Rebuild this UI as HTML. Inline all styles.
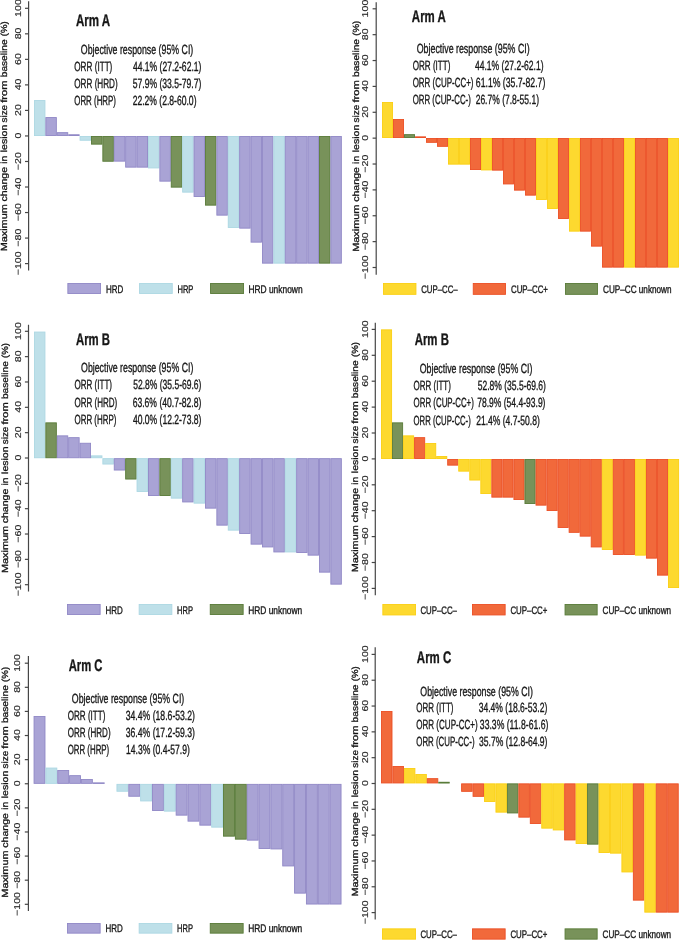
<!DOCTYPE html>
<html><head><meta charset="utf-8"><style>
html,body{margin:0;padding:0;background:#fff;width:685px;height:940px;overflow:hidden}
svg{display:block;will-change:transform}
text{font-family:"Liberation Sans",sans-serif;text-rendering:geometricPrecision}
.t{fill:#161616;stroke:#161616;stroke-width:0.35px;paint-order:stroke}
.tk{fill:#1e1e1e;stroke:#1e1e1e;stroke-width:0.15px}
.tt{fill:#161616;stroke:#161616;stroke-width:0.3px}
</style></head><body>
<svg width="685" height="940" viewBox="0 0 685 940">
<rect width="685" height="940" fill="#fff"/>
<rect x="34.45" y="100.55" width="10.5" height="35" fill="#bee0e9" stroke="#acd7e3" stroke-width="0.9"/>
<rect x="45.85" y="117.55" width="10.5" height="18" fill="#a9a3d5" stroke="#9088c6" stroke-width="0.9"/>
<rect x="57.25" y="132.65" width="10.5" height="2.9" fill="#a9a3d5" stroke="#9088c6" stroke-width="0.9"/>
<rect x="68.65" y="134.75" width="10.5" height="0.8" fill="#a9a3d5" stroke="#9088c6" stroke-width="0.9"/>
<rect x="80.05" y="136.45" width="10.5" height="3.8" fill="#bee0e9" stroke="#acd7e3" stroke-width="0.9"/>
<rect x="91.45" y="136.45" width="10.5" height="7.7" fill="#78925a" stroke="#587b38" stroke-width="0.9"/>
<rect x="102.85" y="136.45" width="10.5" height="24.8" fill="#78925a" stroke="#587b38" stroke-width="0.9"/>
<rect x="114.25" y="136.45" width="10.5" height="24.7" fill="#a9a3d5" stroke="#9088c6" stroke-width="0.9"/>
<rect x="125.65" y="136.45" width="10.5" height="30.7" fill="#a9a3d5" stroke="#9088c6" stroke-width="0.9"/>
<rect x="137.05" y="136.45" width="10.5" height="30.7" fill="#a9a3d5" stroke="#9088c6" stroke-width="0.9"/>
<rect x="148.45" y="136.45" width="10.5" height="31.5" fill="#bee0e9" stroke="#acd7e3" stroke-width="0.9"/>
<rect x="159.85" y="136.45" width="10.5" height="44.7" fill="#a9a3d5" stroke="#9088c6" stroke-width="0.9"/>
<rect x="171.25" y="136.45" width="10.5" height="50.7" fill="#78925a" stroke="#587b38" stroke-width="0.9"/>
<rect x="182.65" y="136.45" width="10.5" height="55.7" fill="#bee0e9" stroke="#acd7e3" stroke-width="0.9"/>
<rect x="194.05" y="136.45" width="10.5" height="60.1" fill="#a9a3d5" stroke="#9088c6" stroke-width="0.9"/>
<rect x="205.45" y="136.45" width="10.5" height="68.7" fill="#78925a" stroke="#587b38" stroke-width="0.9"/>
<rect x="216.85" y="136.45" width="10.5" height="78.7" fill="#a9a3d5" stroke="#9088c6" stroke-width="0.9"/>
<rect x="228.25" y="136.45" width="10.5" height="91.1" fill="#bee0e9" stroke="#acd7e3" stroke-width="0.9"/>
<rect x="239.65" y="136.45" width="10.5" height="91.7" fill="#a9a3d5" stroke="#9088c6" stroke-width="0.9"/>
<rect x="251.05" y="136.45" width="10.5" height="105.7" fill="#a9a3d5" stroke="#9088c6" stroke-width="0.9"/>
<rect x="262.45" y="136.45" width="10.5" height="126.7" fill="#a9a3d5" stroke="#9088c6" stroke-width="0.9"/>
<rect x="273.85" y="136.45" width="10.5" height="126.7" fill="#bee0e9" stroke="#acd7e3" stroke-width="0.9"/>
<rect x="285.25" y="136.45" width="10.5" height="126.7" fill="#a9a3d5" stroke="#9088c6" stroke-width="0.9"/>
<rect x="296.65" y="136.45" width="10.5" height="126.7" fill="#a9a3d5" stroke="#9088c6" stroke-width="0.9"/>
<rect x="308.05" y="136.45" width="10.5" height="126.7" fill="#a9a3d5" stroke="#9088c6" stroke-width="0.9"/>
<rect x="319.45" y="136.45" width="10.5" height="126.7" fill="#78925a" stroke="#587b38" stroke-width="0.9"/>
<rect x="330.85" y="136.45" width="10.5" height="126.7" fill="#a9a3d5" stroke="#9088c6" stroke-width="0.9"/>
<line x1="28.6" y1="1.3" x2="28.6" y2="270.6" stroke="#464646" stroke-width="1.2"/>
<line x1="25" y1="8.3" x2="28.6" y2="8.3" stroke="#464646" stroke-width="1.2"/>
<text transform="translate(20.95 16.19) rotate(-90)" x="-0.74" y="0" font-size="8.50" class="tk" textLength="17.73" lengthAdjust="spacingAndGlyphs">100</text>
<line x1="25" y1="33.83" x2="28.6" y2="33.83" stroke="#464646" stroke-width="1.2"/>
<text transform="translate(20.95 38.95) rotate(-90)" x="-0.42" y="0" font-size="8.50" class="tk" textLength="11.82" lengthAdjust="spacingAndGlyphs">80</text>
<line x1="25" y1="59.36" x2="28.6" y2="59.36" stroke="#464646" stroke-width="1.2"/>
<text transform="translate(20.95 64.43) rotate(-90)" x="-0.53" y="0" font-size="8.50" class="tk" textLength="11.82" lengthAdjust="spacingAndGlyphs">60</text>
<line x1="25" y1="84.89" x2="28.6" y2="84.89" stroke="#464646" stroke-width="1.2"/>
<text transform="translate(20.95 90.12) rotate(-90)" x="-0.21" y="0" font-size="8.50" class="tk" textLength="11.82" lengthAdjust="spacingAndGlyphs">40</text>
<line x1="25" y1="110.42" x2="28.6" y2="110.42" stroke="#464646" stroke-width="1.2"/>
<text transform="translate(20.95 115.49) rotate(-90)" x="-0.53" y="0" font-size="8.50" class="tk" textLength="11.82" lengthAdjust="spacingAndGlyphs">20</text>
<line x1="25" y1="135.95" x2="28.6" y2="135.95" stroke="#464646" stroke-width="1.2"/>
<text transform="translate(20.95 138.10) rotate(-90)" x="-0.43" y="0" font-size="8.50" class="tk" textLength="5.91" lengthAdjust="spacingAndGlyphs">0</text>
<line x1="25" y1="161.48" x2="28.6" y2="161.48" stroke="#464646" stroke-width="1.2"/>
<text transform="translate(20.95 169.63) rotate(-90)" x="-0.53" y="0" font-size="8.50" class="tk" textLength="18.02" lengthAdjust="spacingAndGlyphs">−20</text>
<line x1="25" y1="187.01" x2="28.6" y2="187.01" stroke="#464646" stroke-width="1.2"/>
<text transform="translate(20.95 195.16) rotate(-90)" x="-0.53" y="0" font-size="8.50" class="tk" textLength="18.02" lengthAdjust="spacingAndGlyphs">−40</text>
<line x1="25" y1="212.54" x2="28.6" y2="212.54" stroke="#464646" stroke-width="1.2"/>
<text transform="translate(20.95 220.69) rotate(-90)" x="-0.53" y="0" font-size="8.50" class="tk" textLength="18.02" lengthAdjust="spacingAndGlyphs">−60</text>
<line x1="25" y1="238.07" x2="28.6" y2="238.07" stroke="#464646" stroke-width="1.2"/>
<text transform="translate(20.95 246.22) rotate(-90)" x="-0.53" y="0" font-size="8.50" class="tk" textLength="18.02" lengthAdjust="spacingAndGlyphs">−80</text>
<line x1="25" y1="263.6" x2="28.6" y2="263.6" stroke="#464646" stroke-width="1.2"/>
<text transform="translate(20.95 274.73) rotate(-90)" x="-0.53" y="0" font-size="8.50" class="tk" textLength="23.93" lengthAdjust="spacingAndGlyphs">−100</text>
<text transform="translate(6.70 250.50) rotate(-90)" x="-0.87" y="0" font-size="8.90" class="tt" textLength="47.12" lengthAdjust="spacingAndGlyphs">Maximum</text>
<text transform="translate(6.70 201.14) rotate(-90)" x="-0.42" y="0" font-size="8.90" class="tt" textLength="34.62" lengthAdjust="spacingAndGlyphs">change</text>
<text transform="translate(6.70 163.18) rotate(-90)" x="-0.62" y="0" font-size="8.90" class="tt" textLength="8.01" lengthAdjust="spacingAndGlyphs">in</text>
<text transform="translate(6.70 151.59) rotate(-90)" x="-0.63" y="0" font-size="8.90" class="tt" textLength="27.47" lengthAdjust="spacingAndGlyphs">lesion</text>
<text transform="translate(6.70 122.21) rotate(-90)" x="-0.30" y="0" font-size="8.90" class="tt" textLength="17.66" lengthAdjust="spacingAndGlyphs">size</text>
<text transform="translate(6.70 102.63) rotate(-90)" x="-0.11" y="0" font-size="8.90" class="tt" textLength="22.36" lengthAdjust="spacingAndGlyphs">from</text>
<text transform="translate(6.70 76.65) rotate(-90)" x="-0.61" y="0" font-size="8.90" class="tt" textLength="37.84" lengthAdjust="spacingAndGlyphs">baseline</text>
<text transform="translate(6.70 35.59) rotate(-90)" x="-0.58" y="0" font-size="8.90" class="tt" textLength="15.00" lengthAdjust="spacingAndGlyphs">(%)</text>
<text x="75.95" y="26.20" font-size="16.90" font-weight="bold" class="t" textLength="34.23" lengthAdjust="spacingAndGlyphs">Arm A</text>
<text x="80.85" y="53.60" font-size="13.30" class="t" textLength="112.41" lengthAdjust="spacingAndGlyphs">Objective response (95% CI)</text>
<text x="74.27" y="70.70" font-size="13.30" class="t" textLength="38.08" lengthAdjust="spacingAndGlyphs">ORR (ITT)</text>
<text x="132.93" y="70.70" font-size="13.30" class="t" textLength="68.44" lengthAdjust="spacingAndGlyphs">44.1% (27.2-62.1)</text>
<text x="74.27" y="87.50" font-size="13.30" class="t" textLength="43.44" lengthAdjust="spacingAndGlyphs">ORR (HRD)</text>
<text x="132.76" y="87.50" font-size="13.30" class="t" textLength="68.61" lengthAdjust="spacingAndGlyphs">57.9% (33.5-79.7)</text>
<text x="74.28" y="104.50" font-size="13.30" class="t" textLength="41.67" lengthAdjust="spacingAndGlyphs">ORR (HRP)</text>
<text x="132.67" y="104.50" font-size="13.30" class="t" textLength="63.83" lengthAdjust="spacingAndGlyphs">22.2% (2.8-60.0)</text>
<rect x="67.85" y="283.55" width="32.7" height="10" fill="#a9a3d5" stroke="#9088c6" stroke-width="0.9"/>
<text x="105.96" y="292.60" font-size="10.90" class="t" textLength="17.31" lengthAdjust="spacingAndGlyphs">HRD</text>
<rect x="139.55" y="283.55" width="32.7" height="10" fill="#bee0e9" stroke="#acd7e3" stroke-width="0.9"/>
<text x="177.50" y="292.60" font-size="10.90" class="t" textLength="15.89" lengthAdjust="spacingAndGlyphs">HRP</text>
<rect x="210.55" y="283.55" width="33" height="10" fill="#78925a" stroke="#587b38" stroke-width="0.9"/>
<text x="248.43" y="292.60" font-size="10.90" class="t" textLength="54.15" lengthAdjust="spacingAndGlyphs">HRD unknown</text>
<rect x="382.45" y="102.45" width="10.1" height="35.1" fill="#fdd92f" stroke="#fbcf12" stroke-width="0.9"/>
<rect x="393.45" y="119.45" width="10.1" height="18.1" fill="#f1693b" stroke="#eb4f25" stroke-width="0.9"/>
<rect x="404.45" y="134.65" width="10.1" height="2.9" fill="#78925a" stroke="#587b38" stroke-width="0.9"/>
<rect x="415.45" y="136.85" width="10.1" height="0.7" fill="#f1693b" stroke="#eb4f25" stroke-width="0.9"/>
<rect x="426.45" y="138.45" width="10.1" height="3.9" fill="#f1693b" stroke="#eb4f25" stroke-width="0.9"/>
<rect x="437.45" y="138.45" width="10.1" height="7.9" fill="#f1693b" stroke="#eb4f25" stroke-width="0.9"/>
<rect x="448.45" y="138.45" width="10.1" height="25.7" fill="#fdd92f" stroke="#fbcf12" stroke-width="0.9"/>
<rect x="459.45" y="138.45" width="10.1" height="25.7" fill="#fdd92f" stroke="#fbcf12" stroke-width="0.9"/>
<rect x="470.45" y="138.45" width="10.1" height="31.1" fill="#f1693b" stroke="#eb4f25" stroke-width="0.9"/>
<rect x="481.45" y="138.45" width="10.1" height="31.5" fill="#fdd92f" stroke="#fbcf12" stroke-width="0.9"/>
<rect x="492.45" y="138.45" width="10.1" height="31.7" fill="#f1693b" stroke="#eb4f25" stroke-width="0.9"/>
<rect x="503.45" y="138.45" width="10.1" height="45.5" fill="#f1693b" stroke="#eb4f25" stroke-width="0.9"/>
<rect x="514.45" y="138.45" width="10.1" height="51.7" fill="#f1693b" stroke="#eb4f25" stroke-width="0.9"/>
<rect x="525.45" y="138.45" width="10.1" height="56.7" fill="#f1693b" stroke="#eb4f25" stroke-width="0.9"/>
<rect x="536.45" y="138.45" width="10.1" height="61.1" fill="#fdd92f" stroke="#fbcf12" stroke-width="0.9"/>
<rect x="547.45" y="138.45" width="10.1" height="70.1" fill="#fdd92f" stroke="#fbcf12" stroke-width="0.9"/>
<rect x="558.45" y="138.45" width="10.1" height="80.1" fill="#f1693b" stroke="#eb4f25" stroke-width="0.9"/>
<rect x="569.45" y="138.45" width="10.1" height="92.7" fill="#fdd92f" stroke="#fbcf12" stroke-width="0.9"/>
<rect x="580.45" y="138.45" width="10.1" height="92.7" fill="#f1693b" stroke="#eb4f25" stroke-width="0.9"/>
<rect x="591.45" y="138.45" width="10.1" height="107.7" fill="#f1693b" stroke="#eb4f25" stroke-width="0.9"/>
<rect x="602.45" y="138.45" width="10.1" height="128.7" fill="#f1693b" stroke="#eb4f25" stroke-width="0.9"/>
<rect x="613.45" y="138.45" width="10.1" height="128.7" fill="#f1693b" stroke="#eb4f25" stroke-width="0.9"/>
<rect x="624.45" y="138.45" width="10.1" height="128.7" fill="#fdd92f" stroke="#fbcf12" stroke-width="0.9"/>
<rect x="635.45" y="138.45" width="10.1" height="128.7" fill="#f1693b" stroke="#eb4f25" stroke-width="0.9"/>
<rect x="646.45" y="138.45" width="10.1" height="128.7" fill="#f1693b" stroke="#eb4f25" stroke-width="0.9"/>
<rect x="657.45" y="138.45" width="10.1" height="128.7" fill="#f1693b" stroke="#eb4f25" stroke-width="0.9"/>
<rect x="668.45" y="138.45" width="10.1" height="128.7" fill="#fdd92f" stroke="#fbcf12" stroke-width="0.9"/>
<line x1="376.2" y1="2.2" x2="376.2" y2="274.7" stroke="#464646" stroke-width="1.2"/>
<line x1="372.6" y1="8.8" x2="376.2" y2="8.8" stroke="#464646" stroke-width="1.2"/>
<text transform="translate(368.40 16.69) rotate(-90)" x="-0.74" y="0" font-size="8.50" class="tk" textLength="17.73" lengthAdjust="spacingAndGlyphs">100</text>
<line x1="372.6" y1="34.67" x2="376.2" y2="34.67" stroke="#464646" stroke-width="1.2"/>
<text transform="translate(368.40 39.80) rotate(-90)" x="-0.42" y="0" font-size="8.50" class="tk" textLength="11.82" lengthAdjust="spacingAndGlyphs">80</text>
<line x1="372.6" y1="60.54" x2="376.2" y2="60.54" stroke="#464646" stroke-width="1.2"/>
<text transform="translate(368.40 65.61) rotate(-90)" x="-0.53" y="0" font-size="8.50" class="tk" textLength="11.82" lengthAdjust="spacingAndGlyphs">60</text>
<line x1="372.6" y1="86.41" x2="376.2" y2="86.41" stroke="#464646" stroke-width="1.2"/>
<text transform="translate(368.40 91.64) rotate(-90)" x="-0.21" y="0" font-size="8.50" class="tk" textLength="11.82" lengthAdjust="spacingAndGlyphs">40</text>
<line x1="372.6" y1="112.28" x2="376.2" y2="112.28" stroke="#464646" stroke-width="1.2"/>
<text transform="translate(368.40 117.35) rotate(-90)" x="-0.53" y="0" font-size="8.50" class="tk" textLength="11.82" lengthAdjust="spacingAndGlyphs">20</text>
<line x1="372.6" y1="138.15" x2="376.2" y2="138.15" stroke="#464646" stroke-width="1.2"/>
<text transform="translate(368.40 140.30) rotate(-90)" x="-0.43" y="0" font-size="8.50" class="tk" textLength="5.91" lengthAdjust="spacingAndGlyphs">0</text>
<line x1="372.6" y1="164.02" x2="376.2" y2="164.02" stroke="#464646" stroke-width="1.2"/>
<text transform="translate(368.40 172.17) rotate(-90)" x="-0.53" y="0" font-size="8.50" class="tk" textLength="18.02" lengthAdjust="spacingAndGlyphs">−20</text>
<line x1="372.6" y1="189.89" x2="376.2" y2="189.89" stroke="#464646" stroke-width="1.2"/>
<text transform="translate(368.40 198.04) rotate(-90)" x="-0.53" y="0" font-size="8.50" class="tk" textLength="18.02" lengthAdjust="spacingAndGlyphs">−40</text>
<line x1="372.6" y1="215.76" x2="376.2" y2="215.76" stroke="#464646" stroke-width="1.2"/>
<text transform="translate(368.40 223.91) rotate(-90)" x="-0.53" y="0" font-size="8.50" class="tk" textLength="18.02" lengthAdjust="spacingAndGlyphs">−60</text>
<line x1="372.6" y1="241.63" x2="376.2" y2="241.63" stroke="#464646" stroke-width="1.2"/>
<text transform="translate(368.40 249.78) rotate(-90)" x="-0.53" y="0" font-size="8.50" class="tk" textLength="18.02" lengthAdjust="spacingAndGlyphs">−80</text>
<line x1="372.6" y1="267.5" x2="376.2" y2="267.5" stroke="#464646" stroke-width="1.2"/>
<text transform="translate(368.40 278.63) rotate(-90)" x="-0.53" y="0" font-size="8.50" class="tk" textLength="23.93" lengthAdjust="spacingAndGlyphs">−100</text>
<text transform="translate(358.90 251.00) rotate(-90)" x="-0.87" y="0" font-size="8.90" class="tt" textLength="47.33" lengthAdjust="spacingAndGlyphs">Maximum</text>
<text transform="translate(358.90 201.43) rotate(-90)" x="-0.42" y="0" font-size="8.90" class="tt" textLength="34.77" lengthAdjust="spacingAndGlyphs">change</text>
<text transform="translate(358.90 163.29) rotate(-90)" x="-0.62" y="0" font-size="8.90" class="tt" textLength="8.05" lengthAdjust="spacingAndGlyphs">in</text>
<text transform="translate(358.90 151.65) rotate(-90)" x="-0.63" y="0" font-size="8.90" class="tt" textLength="27.59" lengthAdjust="spacingAndGlyphs">lesion</text>
<text transform="translate(358.90 122.15) rotate(-90)" x="-0.30" y="0" font-size="8.90" class="tt" textLength="17.74" lengthAdjust="spacingAndGlyphs">size</text>
<text transform="translate(358.90 102.48) rotate(-90)" x="-0.11" y="0" font-size="8.90" class="tt" textLength="22.46" lengthAdjust="spacingAndGlyphs">from</text>
<text transform="translate(358.90 76.39) rotate(-90)" x="-0.61" y="0" font-size="8.90" class="tt" textLength="38.00" lengthAdjust="spacingAndGlyphs">baseline</text>
<text transform="translate(358.90 35.15) rotate(-90)" x="-0.58" y="0" font-size="8.90" class="tt" textLength="15.07" lengthAdjust="spacingAndGlyphs">(%)</text>
<text x="411.86" y="21.70" font-size="16.90" font-weight="bold" class="t" textLength="33.93" lengthAdjust="spacingAndGlyphs">Arm A</text>
<text x="416.75" y="53.30" font-size="13.30" class="t" textLength="112.91" lengthAdjust="spacingAndGlyphs">Objective response (95% CI)</text>
<text x="412.68" y="69.90" font-size="13.30" class="t" textLength="37.77" lengthAdjust="spacingAndGlyphs">ORR (ITT)</text>
<text x="474.93" y="69.90" font-size="13.30" class="t" textLength="68.64" lengthAdjust="spacingAndGlyphs">44.1% (27.2-62.1)</text>
<text x="412.68" y="87.00" font-size="13.30" class="t" textLength="60.79" lengthAdjust="spacingAndGlyphs">ORR (CUP-CC+)</text>
<text x="475.87" y="87.00" font-size="13.30" class="t" textLength="69.41" lengthAdjust="spacingAndGlyphs">61.1% (35.7-82.7)</text>
<text x="412.69" y="104.10" font-size="13.30" class="t" textLength="58.17" lengthAdjust="spacingAndGlyphs">ORR (CUP-CC-)</text>
<text x="475.67" y="104.10" font-size="13.30" class="t" textLength="63.32" lengthAdjust="spacingAndGlyphs">26.7% (7.8-55.1)</text>
<rect x="383.45" y="283.45" width="32.5" height="10.9" fill="#fdd92f" stroke="#fbcf12" stroke-width="0.9"/>
<text x="421.21" y="292.90" font-size="10.90" class="t" textLength="36.47" lengthAdjust="spacingAndGlyphs">CUP–CC–</text>
<rect x="473.25" y="283.45" width="32.3" height="10.9" fill="#f1693b" stroke="#eb4f25" stroke-width="0.9"/>
<text x="511.01" y="292.90" font-size="10.90" class="t" textLength="36.95" lengthAdjust="spacingAndGlyphs">CUP–CC+</text>
<rect x="565.45" y="283.45" width="32.1" height="10.9" fill="#78925a" stroke="#587b38" stroke-width="0.9"/>
<text x="602.99" y="292.90" font-size="10.90" class="t" textLength="68.52" lengthAdjust="spacingAndGlyphs">CUP–CC unknown</text>
<rect x="34.45" y="332.05" width="10.5" height="125.7" fill="#bee0e9" stroke="#acd7e3" stroke-width="0.9"/>
<rect x="45.85" y="422.85" width="10.5" height="34.9" fill="#78925a" stroke="#587b38" stroke-width="0.9"/>
<rect x="57.25" y="435.85" width="10.5" height="21.9" fill="#a9a3d5" stroke="#9088c6" stroke-width="0.9"/>
<rect x="68.65" y="437.65" width="10.5" height="20.1" fill="#a9a3d5" stroke="#9088c6" stroke-width="0.9"/>
<rect x="80.05" y="443.25" width="10.5" height="14.5" fill="#a9a3d5" stroke="#9088c6" stroke-width="0.9"/>
<rect x="91.45" y="455.85" width="10.5" height="1.9" fill="#bee0e9" stroke="#acd7e3" stroke-width="0.9"/>
<rect x="102.85" y="458.65" width="10.5" height="5.4" fill="#bee0e9" stroke="#acd7e3" stroke-width="0.9"/>
<rect x="114.25" y="458.65" width="10.5" height="11.4" fill="#a9a3d5" stroke="#9088c6" stroke-width="0.9"/>
<rect x="125.65" y="458.65" width="10.5" height="20.4" fill="#78925a" stroke="#587b38" stroke-width="0.9"/>
<rect x="137.05" y="458.65" width="10.5" height="32.9" fill="#bee0e9" stroke="#acd7e3" stroke-width="0.9"/>
<rect x="148.45" y="458.65" width="10.5" height="36.9" fill="#a9a3d5" stroke="#9088c6" stroke-width="0.9"/>
<rect x="159.85" y="458.65" width="10.5" height="36.9" fill="#78925a" stroke="#587b38" stroke-width="0.9"/>
<rect x="171.25" y="458.65" width="10.5" height="39.5" fill="#bee0e9" stroke="#acd7e3" stroke-width="0.9"/>
<rect x="182.65" y="458.65" width="10.5" height="43.3" fill="#a9a3d5" stroke="#9088c6" stroke-width="0.9"/>
<rect x="194.05" y="458.65" width="10.5" height="44.5" fill="#bee0e9" stroke="#acd7e3" stroke-width="0.9"/>
<rect x="205.45" y="458.65" width="10.5" height="49.5" fill="#a9a3d5" stroke="#9088c6" stroke-width="0.9"/>
<rect x="216.85" y="458.65" width="10.5" height="66.5" fill="#a9a3d5" stroke="#9088c6" stroke-width="0.9"/>
<rect x="228.25" y="458.65" width="10.5" height="71.5" fill="#bee0e9" stroke="#acd7e3" stroke-width="0.9"/>
<rect x="239.65" y="458.65" width="10.5" height="74.9" fill="#a9a3d5" stroke="#9088c6" stroke-width="0.9"/>
<rect x="251.05" y="458.65" width="10.5" height="85.5" fill="#a9a3d5" stroke="#9088c6" stroke-width="0.9"/>
<rect x="262.45" y="458.65" width="10.5" height="88.3" fill="#a9a3d5" stroke="#9088c6" stroke-width="0.9"/>
<rect x="273.85" y="458.65" width="10.5" height="93.3" fill="#a9a3d5" stroke="#9088c6" stroke-width="0.9"/>
<rect x="285.25" y="458.65" width="10.5" height="93.3" fill="#bee0e9" stroke="#acd7e3" stroke-width="0.9"/>
<rect x="296.65" y="458.65" width="10.5" height="93.9" fill="#a9a3d5" stroke="#9088c6" stroke-width="0.9"/>
<rect x="308.05" y="458.65" width="10.5" height="96.5" fill="#a9a3d5" stroke="#9088c6" stroke-width="0.9"/>
<rect x="319.45" y="458.65" width="10.5" height="113.5" fill="#a9a3d5" stroke="#9088c6" stroke-width="0.9"/>
<rect x="330.85" y="458.65" width="10.5" height="125.5" fill="#a9a3d5" stroke="#9088c6" stroke-width="0.9"/>
<line x1="28.5" y1="324.8" x2="28.5" y2="591.5" stroke="#464646" stroke-width="1.2"/>
<line x1="24.9" y1="331.3" x2="28.5" y2="331.3" stroke="#464646" stroke-width="1.2"/>
<text transform="translate(20.50 339.19) rotate(-90)" x="-0.74" y="0" font-size="8.50" class="tk" textLength="17.73" lengthAdjust="spacingAndGlyphs">100</text>
<line x1="24.9" y1="356.64" x2="28.5" y2="356.64" stroke="#464646" stroke-width="1.2"/>
<text transform="translate(20.50 361.76) rotate(-90)" x="-0.42" y="0" font-size="8.50" class="tk" textLength="11.82" lengthAdjust="spacingAndGlyphs">80</text>
<line x1="24.9" y1="381.98" x2="28.5" y2="381.98" stroke="#464646" stroke-width="1.2"/>
<text transform="translate(20.50 387.05) rotate(-90)" x="-0.53" y="0" font-size="8.50" class="tk" textLength="11.82" lengthAdjust="spacingAndGlyphs">60</text>
<line x1="24.9" y1="407.32" x2="28.5" y2="407.32" stroke="#464646" stroke-width="1.2"/>
<text transform="translate(20.50 412.55) rotate(-90)" x="-0.21" y="0" font-size="8.50" class="tk" textLength="11.82" lengthAdjust="spacingAndGlyphs">40</text>
<line x1="24.9" y1="432.66" x2="28.5" y2="432.66" stroke="#464646" stroke-width="1.2"/>
<text transform="translate(20.50 437.73) rotate(-90)" x="-0.53" y="0" font-size="8.50" class="tk" textLength="11.82" lengthAdjust="spacingAndGlyphs">20</text>
<line x1="24.9" y1="458" x2="28.5" y2="458" stroke="#464646" stroke-width="1.2"/>
<text transform="translate(20.50 460.15) rotate(-90)" x="-0.43" y="0" font-size="8.50" class="tk" textLength="5.91" lengthAdjust="spacingAndGlyphs">0</text>
<line x1="24.9" y1="483.34" x2="28.5" y2="483.34" stroke="#464646" stroke-width="1.2"/>
<text transform="translate(20.50 491.49) rotate(-90)" x="-0.53" y="0" font-size="8.50" class="tk" textLength="18.02" lengthAdjust="spacingAndGlyphs">−20</text>
<line x1="24.9" y1="508.68" x2="28.5" y2="508.68" stroke="#464646" stroke-width="1.2"/>
<text transform="translate(20.50 516.83) rotate(-90)" x="-0.53" y="0" font-size="8.50" class="tk" textLength="18.02" lengthAdjust="spacingAndGlyphs">−40</text>
<line x1="24.9" y1="534.02" x2="28.5" y2="534.02" stroke="#464646" stroke-width="1.2"/>
<text transform="translate(20.50 542.17) rotate(-90)" x="-0.53" y="0" font-size="8.50" class="tk" textLength="18.02" lengthAdjust="spacingAndGlyphs">−60</text>
<line x1="24.9" y1="559.36" x2="28.5" y2="559.36" stroke="#464646" stroke-width="1.2"/>
<text transform="translate(20.50 567.51) rotate(-90)" x="-0.53" y="0" font-size="8.50" class="tk" textLength="18.02" lengthAdjust="spacingAndGlyphs">−80</text>
<line x1="24.9" y1="584.7" x2="28.5" y2="584.7" stroke="#464646" stroke-width="1.2"/>
<text transform="translate(20.50 595.83) rotate(-90)" x="-0.53" y="0" font-size="8.50" class="tk" textLength="23.93" lengthAdjust="spacingAndGlyphs">−100</text>
<text transform="translate(7.50 572.20) rotate(-90)" x="-0.87" y="0" font-size="8.90" class="tt" textLength="47.10" lengthAdjust="spacingAndGlyphs">Maximum</text>
<text transform="translate(7.50 522.86) rotate(-90)" x="-0.42" y="0" font-size="8.90" class="tt" textLength="34.61" lengthAdjust="spacingAndGlyphs">change</text>
<text transform="translate(7.50 484.91) rotate(-90)" x="-0.62" y="0" font-size="8.90" class="tt" textLength="8.01" lengthAdjust="spacingAndGlyphs">in</text>
<text transform="translate(7.50 473.33) rotate(-90)" x="-0.63" y="0" font-size="8.90" class="tt" textLength="27.46" lengthAdjust="spacingAndGlyphs">lesion</text>
<text transform="translate(7.50 443.97) rotate(-90)" x="-0.30" y="0" font-size="8.90" class="tt" textLength="17.66" lengthAdjust="spacingAndGlyphs">size</text>
<text transform="translate(7.50 424.39) rotate(-90)" x="-0.11" y="0" font-size="8.90" class="tt" textLength="22.35" lengthAdjust="spacingAndGlyphs">from</text>
<text transform="translate(7.50 398.43) rotate(-90)" x="-0.61" y="0" font-size="8.90" class="tt" textLength="37.82" lengthAdjust="spacingAndGlyphs">baseline</text>
<text transform="translate(7.50 357.38) rotate(-90)" x="-0.58" y="0" font-size="8.90" class="tt" textLength="14.99" lengthAdjust="spacingAndGlyphs">(%)</text>
<text x="75.96" y="345.00" font-size="16.90" font-weight="bold" class="t" textLength="34.10" lengthAdjust="spacingAndGlyphs">Arm B</text>
<text x="81.05" y="372.40" font-size="13.30" class="t" textLength="112.31" lengthAdjust="spacingAndGlyphs">Objective response (95% CI)</text>
<text x="74.48" y="389.40" font-size="13.30" class="t" textLength="37.57" lengthAdjust="spacingAndGlyphs">ORR (ITT)</text>
<text x="133.26" y="389.40" font-size="13.30" class="t" textLength="68.11" lengthAdjust="spacingAndGlyphs">52.8% (35.5-69.6)</text>
<text x="74.48" y="406.50" font-size="13.30" class="t" textLength="42.72" lengthAdjust="spacingAndGlyphs">ORR (HRD)</text>
<text x="132.67" y="406.50" font-size="13.30" class="t" textLength="68.70" lengthAdjust="spacingAndGlyphs">63.6% (40.7-82.8)</text>
<text x="74.48" y="423.70" font-size="13.30" class="t" textLength="41.97" lengthAdjust="spacingAndGlyphs">ORR (HRP)</text>
<text x="132.93" y="423.70" font-size="13.30" class="t" textLength="68.44" lengthAdjust="spacingAndGlyphs">40.0% (12.2-73.8)</text>
<rect x="67.45" y="604.45" width="32.7" height="10.1" fill="#a9a3d5" stroke="#9088c6" stroke-width="0.9"/>
<text x="105.56" y="613.50" font-size="10.90" class="t" textLength="17.31" lengthAdjust="spacingAndGlyphs">HRD</text>
<rect x="139.15" y="604.45" width="32.7" height="10.1" fill="#bee0e9" stroke="#acd7e3" stroke-width="0.9"/>
<text x="177.10" y="613.50" font-size="10.90" class="t" textLength="15.89" lengthAdjust="spacingAndGlyphs">HRP</text>
<rect x="210.25" y="604.45" width="32.9" height="10.1" fill="#78925a" stroke="#587b38" stroke-width="0.9"/>
<text x="248.13" y="613.50" font-size="10.90" class="t" textLength="54.15" lengthAdjust="spacingAndGlyphs">HRD unknown</text>
<rect x="381.45" y="329.85" width="10.14" height="128.7" fill="#fdd92f" stroke="#fbcf12" stroke-width="0.9"/>
<rect x="392.49" y="422.85" width="10.14" height="35.7" fill="#78925a" stroke="#587b38" stroke-width="0.9"/>
<rect x="403.53" y="435.85" width="10.14" height="22.7" fill="#fdd92f" stroke="#fbcf12" stroke-width="0.9"/>
<rect x="414.57" y="437.65" width="10.14" height="20.9" fill="#f1693b" stroke="#eb4f25" stroke-width="0.9"/>
<rect x="425.61" y="443.45" width="10.14" height="15.1" fill="#fdd92f" stroke="#fbcf12" stroke-width="0.9"/>
<rect x="436.65" y="456.45" width="10.14" height="2.1" fill="#fdd92f" stroke="#fbcf12" stroke-width="0.9"/>
<rect x="447.69" y="459.45" width="10.14" height="5.7" fill="#f1693b" stroke="#eb4f25" stroke-width="0.9"/>
<rect x="458.73" y="459.45" width="10.14" height="11.7" fill="#fdd92f" stroke="#fbcf12" stroke-width="0.9"/>
<rect x="469.77" y="459.45" width="10.14" height="20.6" fill="#fdd92f" stroke="#fbcf12" stroke-width="0.9"/>
<rect x="480.81" y="459.45" width="10.14" height="34.1" fill="#fdd92f" stroke="#fbcf12" stroke-width="0.9"/>
<rect x="491.85" y="459.45" width="10.14" height="37.7" fill="#f1693b" stroke="#eb4f25" stroke-width="0.9"/>
<rect x="502.89" y="459.45" width="10.14" height="37.7" fill="#f1693b" stroke="#eb4f25" stroke-width="0.9"/>
<rect x="513.93" y="459.45" width="10.14" height="40.1" fill="#f1693b" stroke="#eb4f25" stroke-width="0.9"/>
<rect x="524.97" y="459.45" width="10.14" height="44.1" fill="#78925a" stroke="#587b38" stroke-width="0.9"/>
<rect x="536.01" y="459.45" width="10.14" height="45.7" fill="#f1693b" stroke="#eb4f25" stroke-width="0.9"/>
<rect x="547.05" y="459.45" width="10.14" height="51.1" fill="#f1693b" stroke="#eb4f25" stroke-width="0.9"/>
<rect x="558.09" y="459.45" width="10.14" height="68.1" fill="#f1693b" stroke="#eb4f25" stroke-width="0.9"/>
<rect x="569.13" y="459.45" width="10.14" height="72.9" fill="#f1693b" stroke="#eb4f25" stroke-width="0.9"/>
<rect x="580.17" y="459.45" width="10.14" height="76.7" fill="#f1693b" stroke="#eb4f25" stroke-width="0.9"/>
<rect x="591.21" y="459.45" width="10.14" height="87.5" fill="#f1693b" stroke="#eb4f25" stroke-width="0.9"/>
<rect x="602.25" y="459.45" width="10.14" height="90.1" fill="#fdd92f" stroke="#fbcf12" stroke-width="0.9"/>
<rect x="613.29" y="459.45" width="10.14" height="95.1" fill="#f1693b" stroke="#eb4f25" stroke-width="0.9"/>
<rect x="624.33" y="459.45" width="10.14" height="95.1" fill="#f1693b" stroke="#eb4f25" stroke-width="0.9"/>
<rect x="635.37" y="459.45" width="10.14" height="95.7" fill="#fdd92f" stroke="#fbcf12" stroke-width="0.9"/>
<rect x="646.41" y="459.45" width="10.14" height="98.7" fill="#f1693b" stroke="#eb4f25" stroke-width="0.9"/>
<rect x="657.45" y="459.45" width="10.14" height="115.7" fill="#f1693b" stroke="#eb4f25" stroke-width="0.9"/>
<rect x="668.49" y="459.45" width="10.14" height="128.1" fill="#fdd92f" stroke="#fbcf12" stroke-width="0.9"/>
<line x1="375.3" y1="322.7" x2="375.3" y2="595.3" stroke="#464646" stroke-width="1.2"/>
<line x1="371.7" y1="329.4" x2="375.3" y2="329.4" stroke="#464646" stroke-width="1.2"/>
<text transform="translate(367.70 337.29) rotate(-90)" x="-0.74" y="0" font-size="8.50" class="tk" textLength="17.73" lengthAdjust="spacingAndGlyphs">100</text>
<line x1="371.7" y1="355.3" x2="375.3" y2="355.3" stroke="#464646" stroke-width="1.2"/>
<text transform="translate(367.70 360.42) rotate(-90)" x="-0.42" y="0" font-size="8.50" class="tk" textLength="11.82" lengthAdjust="spacingAndGlyphs">80</text>
<line x1="371.7" y1="381.2" x2="375.3" y2="381.2" stroke="#464646" stroke-width="1.2"/>
<text transform="translate(367.70 386.27) rotate(-90)" x="-0.53" y="0" font-size="8.50" class="tk" textLength="11.82" lengthAdjust="spacingAndGlyphs">60</text>
<line x1="371.7" y1="407.1" x2="375.3" y2="407.1" stroke="#464646" stroke-width="1.2"/>
<text transform="translate(367.70 412.33) rotate(-90)" x="-0.21" y="0" font-size="8.50" class="tk" textLength="11.82" lengthAdjust="spacingAndGlyphs">40</text>
<line x1="371.7" y1="433" x2="375.3" y2="433" stroke="#464646" stroke-width="1.2"/>
<text transform="translate(367.70 438.07) rotate(-90)" x="-0.53" y="0" font-size="8.50" class="tk" textLength="11.82" lengthAdjust="spacingAndGlyphs">20</text>
<line x1="371.7" y1="458.9" x2="375.3" y2="458.9" stroke="#464646" stroke-width="1.2"/>
<text transform="translate(367.70 461.05) rotate(-90)" x="-0.43" y="0" font-size="8.50" class="tk" textLength="5.91" lengthAdjust="spacingAndGlyphs">0</text>
<line x1="371.7" y1="484.8" x2="375.3" y2="484.8" stroke="#464646" stroke-width="1.2"/>
<text transform="translate(367.70 492.95) rotate(-90)" x="-0.53" y="0" font-size="8.50" class="tk" textLength="18.02" lengthAdjust="spacingAndGlyphs">−20</text>
<line x1="371.7" y1="510.7" x2="375.3" y2="510.7" stroke="#464646" stroke-width="1.2"/>
<text transform="translate(367.70 518.85) rotate(-90)" x="-0.53" y="0" font-size="8.50" class="tk" textLength="18.02" lengthAdjust="spacingAndGlyphs">−40</text>
<line x1="371.7" y1="536.6" x2="375.3" y2="536.6" stroke="#464646" stroke-width="1.2"/>
<text transform="translate(367.70 544.75) rotate(-90)" x="-0.53" y="0" font-size="8.50" class="tk" textLength="18.02" lengthAdjust="spacingAndGlyphs">−60</text>
<line x1="371.7" y1="562.5" x2="375.3" y2="562.5" stroke="#464646" stroke-width="1.2"/>
<text transform="translate(367.70 570.65) rotate(-90)" x="-0.53" y="0" font-size="8.50" class="tk" textLength="18.02" lengthAdjust="spacingAndGlyphs">−80</text>
<line x1="371.7" y1="588.4" x2="375.3" y2="588.4" stroke="#464646" stroke-width="1.2"/>
<text transform="translate(367.70 599.53) rotate(-90)" x="-0.53" y="0" font-size="8.50" class="tk" textLength="23.93" lengthAdjust="spacingAndGlyphs">−100</text>
<text transform="translate(358.30 571.50) rotate(-90)" x="-0.87" y="0" font-size="8.90" class="tt" textLength="47.14" lengthAdjust="spacingAndGlyphs">Maximum</text>
<text transform="translate(358.30 522.12) rotate(-90)" x="-0.42" y="0" font-size="8.90" class="tt" textLength="34.64" lengthAdjust="spacingAndGlyphs">change</text>
<text transform="translate(358.30 484.14) rotate(-90)" x="-0.62" y="0" font-size="8.90" class="tt" textLength="8.02" lengthAdjust="spacingAndGlyphs">in</text>
<text transform="translate(358.30 472.54) rotate(-90)" x="-0.63" y="0" font-size="8.90" class="tt" textLength="27.48" lengthAdjust="spacingAndGlyphs">lesion</text>
<text transform="translate(358.30 443.16) rotate(-90)" x="-0.30" y="0" font-size="8.90" class="tt" textLength="17.67" lengthAdjust="spacingAndGlyphs">size</text>
<text transform="translate(358.30 423.56) rotate(-90)" x="-0.11" y="0" font-size="8.90" class="tt" textLength="22.37" lengthAdjust="spacingAndGlyphs">from</text>
<text transform="translate(358.30 397.58) rotate(-90)" x="-0.61" y="0" font-size="8.90" class="tt" textLength="37.85" lengthAdjust="spacingAndGlyphs">baseline</text>
<text transform="translate(358.30 356.49) rotate(-90)" x="-0.58" y="0" font-size="8.90" class="tt" textLength="15.01" lengthAdjust="spacingAndGlyphs">(%)</text>
<text x="414.66" y="345.30" font-size="16.90" font-weight="bold" class="t" textLength="34.21" lengthAdjust="spacingAndGlyphs">Arm B</text>
<text x="419.75" y="372.60" font-size="13.30" class="t" textLength="112.71" lengthAdjust="spacingAndGlyphs">Objective response (95% CI)</text>
<text x="413.58" y="389.80" font-size="13.30" class="t" textLength="37.26" lengthAdjust="spacingAndGlyphs">ORR (ITT)</text>
<text x="477.66" y="389.80" font-size="13.30" class="t" textLength="68.31" lengthAdjust="spacingAndGlyphs">52.8% (35.5-69.6)</text>
<text x="413.58" y="407.20" font-size="13.30" class="t" textLength="60.28" lengthAdjust="spacingAndGlyphs">ORR (CUP-CC+)</text>
<text x="477.27" y="407.20" font-size="13.30" class="t" textLength="68.19" lengthAdjust="spacingAndGlyphs">78.9% (54.4-93.9)</text>
<text x="413.59" y="424.50" font-size="13.30" class="t" textLength="57.16" lengthAdjust="spacingAndGlyphs">ORR (CUP-CC-)</text>
<text x="476.17" y="424.50" font-size="13.30" class="t" textLength="63.63" lengthAdjust="spacingAndGlyphs">21.4% (4.7-50.8)</text>
<rect x="382.85" y="604.45" width="32.7" height="10.5" fill="#fdd92f" stroke="#fbcf12" stroke-width="0.9"/>
<text x="420.41" y="613.60" font-size="10.90" class="t" textLength="36.47" lengthAdjust="spacingAndGlyphs">CUP–CC–</text>
<rect x="472.45" y="604.45" width="32.7" height="10.5" fill="#f1693b" stroke="#eb4f25" stroke-width="0.9"/>
<text x="510.41" y="613.60" font-size="10.90" class="t" textLength="36.95" lengthAdjust="spacingAndGlyphs">CUP–CC+</text>
<rect x="565.05" y="604.45" width="32.1" height="10.5" fill="#78925a" stroke="#587b38" stroke-width="0.9"/>
<text x="602.59" y="613.60" font-size="10.90" class="t" textLength="68.52" lengthAdjust="spacingAndGlyphs">CUP–CC unknown</text>
<rect x="34.05" y="716.55" width="10.94" height="66.8" fill="#a9a3d5" stroke="#9088c6" stroke-width="0.9"/>
<rect x="45.89" y="768.05" width="10.94" height="15.3" fill="#bee0e9" stroke="#acd7e3" stroke-width="0.9"/>
<rect x="57.73" y="770.45" width="10.94" height="12.9" fill="#a9a3d5" stroke="#9088c6" stroke-width="0.9"/>
<rect x="69.58" y="775.65" width="10.94" height="7.7" fill="#a9a3d5" stroke="#9088c6" stroke-width="0.9"/>
<rect x="81.42" y="779.55" width="10.94" height="3.8" fill="#a9a3d5" stroke="#9088c6" stroke-width="0.9"/>
<rect x="93.26" y="782.85" width="10.94" height="0.6" fill="#a9a3d5" stroke="#9088c6" stroke-width="0.9"/>
<rect x="116.94" y="784.35" width="10.94" height="6.9" fill="#bee0e9" stroke="#acd7e3" stroke-width="0.9"/>
<rect x="128.79" y="784.35" width="10.94" height="11.9" fill="#a9a3d5" stroke="#9088c6" stroke-width="0.9"/>
<rect x="140.63" y="784.35" width="10.94" height="16.6" fill="#bee0e9" stroke="#acd7e3" stroke-width="0.9"/>
<rect x="152.47" y="784.35" width="10.94" height="26.2" fill="#a9a3d5" stroke="#9088c6" stroke-width="0.9"/>
<rect x="164.31" y="784.35" width="10.94" height="26.8" fill="#bee0e9" stroke="#acd7e3" stroke-width="0.9"/>
<rect x="176.15" y="784.35" width="10.94" height="30.8" fill="#a9a3d5" stroke="#9088c6" stroke-width="0.9"/>
<rect x="188" y="784.35" width="10.94" height="36.8" fill="#a9a3d5" stroke="#9088c6" stroke-width="0.9"/>
<rect x="199.84" y="784.35" width="10.94" height="40.8" fill="#a9a3d5" stroke="#9088c6" stroke-width="0.9"/>
<rect x="211.68" y="784.35" width="10.94" height="42.8" fill="#bee0e9" stroke="#acd7e3" stroke-width="0.9"/>
<rect x="223.52" y="784.35" width="10.94" height="51.8" fill="#78925a" stroke="#587b38" stroke-width="0.9"/>
<rect x="235.36" y="784.35" width="10.94" height="54.8" fill="#78925a" stroke="#587b38" stroke-width="0.9"/>
<rect x="247.21" y="784.35" width="10.94" height="55.8" fill="#a9a3d5" stroke="#9088c6" stroke-width="0.9"/>
<rect x="259.05" y="784.35" width="10.94" height="64.2" fill="#a9a3d5" stroke="#9088c6" stroke-width="0.9"/>
<rect x="270.89" y="784.35" width="10.94" height="64.6" fill="#a9a3d5" stroke="#9088c6" stroke-width="0.9"/>
<rect x="282.73" y="784.35" width="10.94" height="81.6" fill="#a9a3d5" stroke="#9088c6" stroke-width="0.9"/>
<rect x="294.57" y="784.35" width="10.94" height="108.8" fill="#a9a3d5" stroke="#9088c6" stroke-width="0.9"/>
<rect x="306.42" y="784.35" width="10.94" height="119.7" fill="#a9a3d5" stroke="#9088c6" stroke-width="0.9"/>
<rect x="318.26" y="784.35" width="10.94" height="119.7" fill="#a9a3d5" stroke="#9088c6" stroke-width="0.9"/>
<rect x="330.1" y="784.35" width="10.94" height="119.7" fill="#a9a3d5" stroke="#9088c6" stroke-width="0.9"/>
<line x1="28.4" y1="656.1" x2="28.4" y2="911.1" stroke="#464646" stroke-width="1.2"/>
<line x1="24.8" y1="663.2" x2="28.4" y2="663.2" stroke="#464646" stroke-width="1.2"/>
<text transform="translate(20.40 671.09) rotate(-90)" x="-0.74" y="0" font-size="8.50" class="tk" textLength="17.73" lengthAdjust="spacingAndGlyphs">100</text>
<line x1="24.8" y1="687.31" x2="28.4" y2="687.31" stroke="#464646" stroke-width="1.2"/>
<text transform="translate(20.40 692.44) rotate(-90)" x="-0.42" y="0" font-size="8.50" class="tk" textLength="11.82" lengthAdjust="spacingAndGlyphs">80</text>
<line x1="24.8" y1="711.42" x2="28.4" y2="711.42" stroke="#464646" stroke-width="1.2"/>
<text transform="translate(20.40 716.49) rotate(-90)" x="-0.53" y="0" font-size="8.50" class="tk" textLength="11.82" lengthAdjust="spacingAndGlyphs">60</text>
<line x1="24.8" y1="735.53" x2="28.4" y2="735.53" stroke="#464646" stroke-width="1.2"/>
<text transform="translate(20.40 740.76) rotate(-90)" x="-0.21" y="0" font-size="8.50" class="tk" textLength="11.82" lengthAdjust="spacingAndGlyphs">40</text>
<line x1="24.8" y1="759.64" x2="28.4" y2="759.64" stroke="#464646" stroke-width="1.2"/>
<text transform="translate(20.40 764.71) rotate(-90)" x="-0.53" y="0" font-size="8.50" class="tk" textLength="11.82" lengthAdjust="spacingAndGlyphs">20</text>
<line x1="24.8" y1="783.75" x2="28.4" y2="783.75" stroke="#464646" stroke-width="1.2"/>
<text transform="translate(20.40 785.90) rotate(-90)" x="-0.42" y="0" font-size="8.50" class="tk" textLength="5.91" lengthAdjust="spacingAndGlyphs">0</text>
<line x1="24.8" y1="807.86" x2="28.4" y2="807.86" stroke="#464646" stroke-width="1.2"/>
<text transform="translate(20.40 816.01) rotate(-90)" x="-0.53" y="0" font-size="8.50" class="tk" textLength="18.02" lengthAdjust="spacingAndGlyphs">−20</text>
<line x1="24.8" y1="831.97" x2="28.4" y2="831.97" stroke="#464646" stroke-width="1.2"/>
<text transform="translate(20.40 840.12) rotate(-90)" x="-0.53" y="0" font-size="8.50" class="tk" textLength="18.02" lengthAdjust="spacingAndGlyphs">−40</text>
<line x1="24.8" y1="856.08" x2="28.4" y2="856.08" stroke="#464646" stroke-width="1.2"/>
<text transform="translate(20.40 864.23) rotate(-90)" x="-0.53" y="0" font-size="8.50" class="tk" textLength="18.02" lengthAdjust="spacingAndGlyphs">−60</text>
<line x1="24.8" y1="880.19" x2="28.4" y2="880.19" stroke="#464646" stroke-width="1.2"/>
<text transform="translate(20.40 888.34) rotate(-90)" x="-0.53" y="0" font-size="8.50" class="tk" textLength="18.02" lengthAdjust="spacingAndGlyphs">−80</text>
<line x1="24.8" y1="904.3" x2="28.4" y2="904.3" stroke="#464646" stroke-width="1.2"/>
<text transform="translate(20.40 915.43) rotate(-90)" x="-0.53" y="0" font-size="8.50" class="tk" textLength="23.93" lengthAdjust="spacingAndGlyphs">−100</text>
<text transform="translate(8.00 896.80) rotate(-90)" x="-0.87" y="0" font-size="8.90" class="tt" textLength="47.25" lengthAdjust="spacingAndGlyphs">Maximum</text>
<text transform="translate(8.00 847.31) rotate(-90)" x="-0.42" y="0" font-size="8.90" class="tt" textLength="34.71" lengthAdjust="spacingAndGlyphs">change</text>
<text transform="translate(8.00 809.25) rotate(-90)" x="-0.62" y="0" font-size="8.90" class="tt" textLength="8.03" lengthAdjust="spacingAndGlyphs">in</text>
<text transform="translate(8.00 797.63) rotate(-90)" x="-0.63" y="0" font-size="8.90" class="tt" textLength="27.54" lengthAdjust="spacingAndGlyphs">lesion</text>
<text transform="translate(8.00 768.18) rotate(-90)" x="-0.30" y="0" font-size="8.90" class="tt" textLength="17.71" lengthAdjust="spacingAndGlyphs">size</text>
<text transform="translate(8.00 748.54) rotate(-90)" x="-0.11" y="0" font-size="8.90" class="tt" textLength="22.42" lengthAdjust="spacingAndGlyphs">from</text>
<text transform="translate(8.00 722.50) rotate(-90)" x="-0.61" y="0" font-size="8.90" class="tt" textLength="37.94" lengthAdjust="spacingAndGlyphs">baseline</text>
<text transform="translate(8.00 681.32) rotate(-90)" x="-0.58" y="0" font-size="8.90" class="tt" textLength="15.04" lengthAdjust="spacingAndGlyphs">(%)</text>
<text x="68.66" y="670.60" font-size="16.90" font-weight="bold" class="t" textLength="33.78" lengthAdjust="spacingAndGlyphs">Arm C</text>
<text x="71.85" y="702.90" font-size="13.30" class="t" textLength="112.41" lengthAdjust="spacingAndGlyphs">Objective response (95% CI)</text>
<text x="67.68" y="719.80" font-size="13.30" class="t" textLength="37.77" lengthAdjust="spacingAndGlyphs">ORR (ITT)</text>
<text x="125.75" y="719.80" font-size="13.30" class="t" textLength="69.22" lengthAdjust="spacingAndGlyphs">34.4% (18.6-53.2)</text>
<text x="67.68" y="736.90" font-size="13.30" class="t" textLength="42.93" lengthAdjust="spacingAndGlyphs">ORR (HRD)</text>
<text x="125.75" y="736.90" font-size="13.30" class="t" textLength="69.22" lengthAdjust="spacingAndGlyphs">36.4% (17.2-59.3)</text>
<text x="67.68" y="754.10" font-size="13.30" class="t" textLength="41.57" lengthAdjust="spacingAndGlyphs">ORR (HRP)</text>
<text x="126.00" y="754.10" font-size="13.30" class="t" textLength="63.80" lengthAdjust="spacingAndGlyphs">14.3% (0.4-57.9)</text>
<rect x="67.45" y="923.45" width="32.7" height="9.7" fill="#a9a3d5" stroke="#9088c6" stroke-width="0.9"/>
<text x="105.56" y="932.20" font-size="10.90" class="t" textLength="17.31" lengthAdjust="spacingAndGlyphs">HRD</text>
<rect x="139.15" y="923.45" width="32.7" height="9.7" fill="#bee0e9" stroke="#acd7e3" stroke-width="0.9"/>
<text x="177.10" y="932.20" font-size="10.90" class="t" textLength="15.89" lengthAdjust="spacingAndGlyphs">HRP</text>
<rect x="210.25" y="923.45" width="32.9" height="9.7" fill="#78925a" stroke="#587b38" stroke-width="0.9"/>
<text x="248.13" y="932.20" font-size="10.90" class="t" textLength="54.15" lengthAdjust="spacingAndGlyphs">HRD unknown</text>
<rect x="381.45" y="711.45" width="10.55" height="71.5" fill="#f1693b" stroke="#eb4f25" stroke-width="0.9"/>
<rect x="392.9" y="766.45" width="10.55" height="16.5" fill="#f1693b" stroke="#eb4f25" stroke-width="0.9"/>
<rect x="404.35" y="768.45" width="10.55" height="14.5" fill="#fdd92f" stroke="#fbcf12" stroke-width="0.9"/>
<rect x="415.8" y="774.55" width="10.55" height="8.4" fill="#fdd92f" stroke="#fbcf12" stroke-width="0.9"/>
<rect x="427.25" y="778.65" width="10.55" height="4.3" fill="#f1693b" stroke="#eb4f25" stroke-width="0.9"/>
<rect x="438.7" y="782.25" width="10.55" height="0.8" fill="#78925a" stroke="#587b38" stroke-width="0.9"/>
<rect x="461.6" y="783.85" width="10.55" height="7.5" fill="#f1693b" stroke="#eb4f25" stroke-width="0.9"/>
<rect x="473.05" y="783.85" width="10.55" height="12.5" fill="#f1693b" stroke="#eb4f25" stroke-width="0.9"/>
<rect x="484.5" y="783.85" width="10.55" height="17.7" fill="#fdd92f" stroke="#fbcf12" stroke-width="0.9"/>
<rect x="495.95" y="783.85" width="10.55" height="28.3" fill="#fdd92f" stroke="#fbcf12" stroke-width="0.9"/>
<rect x="507.4" y="783.85" width="10.55" height="29.1" fill="#78925a" stroke="#587b38" stroke-width="0.9"/>
<rect x="518.85" y="783.85" width="10.55" height="33.3" fill="#f1693b" stroke="#eb4f25" stroke-width="0.9"/>
<rect x="530.3" y="783.85" width="10.55" height="39.7" fill="#f1693b" stroke="#eb4f25" stroke-width="0.9"/>
<rect x="541.75" y="783.85" width="10.55" height="44.3" fill="#fdd92f" stroke="#fbcf12" stroke-width="0.9"/>
<rect x="553.2" y="783.85" width="10.55" height="46.1" fill="#fdd92f" stroke="#fbcf12" stroke-width="0.9"/>
<rect x="564.65" y="783.85" width="10.55" height="56.1" fill="#f1693b" stroke="#eb4f25" stroke-width="0.9"/>
<rect x="576.1" y="783.85" width="10.55" height="59.7" fill="#fdd92f" stroke="#fbcf12" stroke-width="0.9"/>
<rect x="587.55" y="783.85" width="10.55" height="60.3" fill="#78925a" stroke="#587b38" stroke-width="0.9"/>
<rect x="599" y="783.85" width="10.55" height="68.7" fill="#fdd92f" stroke="#fbcf12" stroke-width="0.9"/>
<rect x="610.45" y="783.85" width="10.55" height="69.3" fill="#fdd92f" stroke="#fbcf12" stroke-width="0.9"/>
<rect x="621.9" y="783.85" width="10.55" height="88.1" fill="#fdd92f" stroke="#fbcf12" stroke-width="0.9"/>
<rect x="633.35" y="783.85" width="10.55" height="116.3" fill="#f1693b" stroke="#eb4f25" stroke-width="0.9"/>
<rect x="644.8" y="783.85" width="10.55" height="128.3" fill="#fdd92f" stroke="#fbcf12" stroke-width="0.9"/>
<rect x="656.25" y="783.85" width="10.55" height="128.3" fill="#f1693b" stroke="#eb4f25" stroke-width="0.9"/>
<rect x="667.7" y="783.85" width="10.55" height="128.3" fill="#f1693b" stroke="#eb4f25" stroke-width="0.9"/>
<line x1="375.2" y1="647.3" x2="375.2" y2="919.6" stroke="#464646" stroke-width="1.2"/>
<line x1="371.6" y1="654.4" x2="375.2" y2="654.4" stroke="#464646" stroke-width="1.2"/>
<text transform="translate(367.70 662.29) rotate(-90)" x="-0.74" y="0" font-size="8.50" class="tk" textLength="17.73" lengthAdjust="spacingAndGlyphs">100</text>
<line x1="371.6" y1="680.22" x2="375.2" y2="680.22" stroke="#464646" stroke-width="1.2"/>
<text transform="translate(367.70 685.35) rotate(-90)" x="-0.42" y="0" font-size="8.50" class="tk" textLength="11.82" lengthAdjust="spacingAndGlyphs">80</text>
<line x1="371.6" y1="706.04" x2="375.2" y2="706.04" stroke="#464646" stroke-width="1.2"/>
<text transform="translate(367.70 711.11) rotate(-90)" x="-0.53" y="0" font-size="8.50" class="tk" textLength="11.82" lengthAdjust="spacingAndGlyphs">60</text>
<line x1="371.6" y1="731.86" x2="375.2" y2="731.86" stroke="#464646" stroke-width="1.2"/>
<text transform="translate(367.70 737.09) rotate(-90)" x="-0.21" y="0" font-size="8.50" class="tk" textLength="11.82" lengthAdjust="spacingAndGlyphs">40</text>
<line x1="371.6" y1="757.68" x2="375.2" y2="757.68" stroke="#464646" stroke-width="1.2"/>
<text transform="translate(367.70 762.75) rotate(-90)" x="-0.53" y="0" font-size="8.50" class="tk" textLength="11.82" lengthAdjust="spacingAndGlyphs">20</text>
<line x1="371.6" y1="783.5" x2="375.2" y2="783.5" stroke="#464646" stroke-width="1.2"/>
<text transform="translate(367.70 785.65) rotate(-90)" x="-0.42" y="0" font-size="8.50" class="tk" textLength="5.91" lengthAdjust="spacingAndGlyphs">0</text>
<line x1="371.6" y1="809.32" x2="375.2" y2="809.32" stroke="#464646" stroke-width="1.2"/>
<text transform="translate(367.70 817.47) rotate(-90)" x="-0.53" y="0" font-size="8.50" class="tk" textLength="18.02" lengthAdjust="spacingAndGlyphs">−20</text>
<line x1="371.6" y1="835.14" x2="375.2" y2="835.14" stroke="#464646" stroke-width="1.2"/>
<text transform="translate(367.70 843.29) rotate(-90)" x="-0.53" y="0" font-size="8.50" class="tk" textLength="18.02" lengthAdjust="spacingAndGlyphs">−40</text>
<line x1="371.6" y1="860.96" x2="375.2" y2="860.96" stroke="#464646" stroke-width="1.2"/>
<text transform="translate(367.70 869.11) rotate(-90)" x="-0.53" y="0" font-size="8.50" class="tk" textLength="18.02" lengthAdjust="spacingAndGlyphs">−60</text>
<line x1="371.6" y1="886.78" x2="375.2" y2="886.78" stroke="#464646" stroke-width="1.2"/>
<text transform="translate(367.70 894.93) rotate(-90)" x="-0.53" y="0" font-size="8.50" class="tk" textLength="18.02" lengthAdjust="spacingAndGlyphs">−80</text>
<line x1="371.6" y1="912.6" x2="375.2" y2="912.6" stroke="#464646" stroke-width="1.2"/>
<text transform="translate(367.70 923.73) rotate(-90)" x="-0.53" y="0" font-size="8.50" class="tk" textLength="23.93" lengthAdjust="spacingAndGlyphs">−100</text>
<text transform="translate(358.30 895.70) rotate(-90)" x="-0.87" y="0" font-size="8.90" class="tt" textLength="47.14" lengthAdjust="spacingAndGlyphs">Maximum</text>
<text transform="translate(358.30 846.32) rotate(-90)" x="-0.42" y="0" font-size="8.90" class="tt" textLength="34.64" lengthAdjust="spacingAndGlyphs">change</text>
<text transform="translate(358.30 808.34) rotate(-90)" x="-0.62" y="0" font-size="8.90" class="tt" textLength="8.02" lengthAdjust="spacingAndGlyphs">in</text>
<text transform="translate(358.30 796.74) rotate(-90)" x="-0.63" y="0" font-size="8.90" class="tt" textLength="27.48" lengthAdjust="spacingAndGlyphs">lesion</text>
<text transform="translate(358.30 767.36) rotate(-90)" x="-0.30" y="0" font-size="8.90" class="tt" textLength="17.67" lengthAdjust="spacingAndGlyphs">size</text>
<text transform="translate(358.30 747.76) rotate(-90)" x="-0.11" y="0" font-size="8.90" class="tt" textLength="22.37" lengthAdjust="spacingAndGlyphs">from</text>
<text transform="translate(358.30 721.78) rotate(-90)" x="-0.61" y="0" font-size="8.90" class="tt" textLength="37.85" lengthAdjust="spacingAndGlyphs">baseline</text>
<text transform="translate(358.30 680.69) rotate(-90)" x="-0.58" y="0" font-size="8.90" class="tt" textLength="15.01" lengthAdjust="spacingAndGlyphs">(%)</text>
<text x="416.86" y="662.80" font-size="16.90" font-weight="bold" class="t" textLength="34.39" lengthAdjust="spacingAndGlyphs">Arm C</text>
<text x="420.35" y="695.50" font-size="13.30" class="t" textLength="112.61" lengthAdjust="spacingAndGlyphs">Objective response (95% CI)</text>
<text x="416.28" y="711.80" font-size="13.30" class="t" textLength="37.26" lengthAdjust="spacingAndGlyphs">ORR (ITT)</text>
<text x="478.66" y="711.80" font-size="13.30" class="t" textLength="68.61" lengthAdjust="spacingAndGlyphs">34.4% (18.6-53.2)</text>
<text x="416.28" y="729.00" font-size="13.30" class="t" textLength="61.39" lengthAdjust="spacingAndGlyphs">ORR (CUP-CC+)</text>
<text x="479.85" y="729.00" font-size="13.30" class="t" textLength="68.47" lengthAdjust="spacingAndGlyphs">33.3% (11.8-61.6)</text>
<text x="416.28" y="746.30" font-size="13.30" class="t" textLength="58.27" lengthAdjust="spacingAndGlyphs">ORR (CUP-CC-)</text>
<text x="479.06" y="746.30" font-size="13.30" class="t" textLength="68.41" lengthAdjust="spacingAndGlyphs">35.7% (12.8-64.9)</text>
<rect x="382.45" y="928.85" width="33.1" height="10.3" fill="#fdd92f" stroke="#fbcf12" stroke-width="0.9"/>
<text x="420.41" y="937.60" font-size="10.90" class="t" textLength="36.47" lengthAdjust="spacingAndGlyphs">CUP–CC–</text>
<rect x="472.45" y="928.85" width="32.7" height="10.3" fill="#f1693b" stroke="#eb4f25" stroke-width="0.9"/>
<text x="510.41" y="937.60" font-size="10.90" class="t" textLength="36.95" lengthAdjust="spacingAndGlyphs">CUP–CC+</text>
<rect x="565.05" y="928.85" width="32.1" height="10.3" fill="#78925a" stroke="#587b38" stroke-width="0.9"/>
<text x="602.59" y="937.60" font-size="10.90" class="t" textLength="68.52" lengthAdjust="spacingAndGlyphs">CUP–CC unknown</text>
</svg>
</body></html>
